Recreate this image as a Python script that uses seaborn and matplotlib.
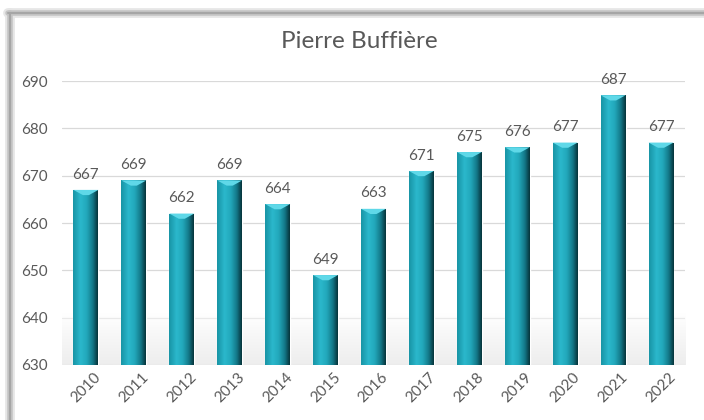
import numpy as np
import pandas as pd
import matplotlib.pyplot as plt
import seaborn as sns
from matplotlib.colors import LinearSegmentedColormap
from matplotlib.patches import Polygon
from matplotlib.lines import Line2D

# Data
years = ["2010", "2011", "2012", "2013", "2014", "2015", "2016",
         "2017", "2018", "2019", "2020", "2021", "2022"]
values = [667, 669, 662, 669, 664, 649, 663, 671, 675, 676, 677, 687, 677]
title = "Pierre Buffière"

df = pd.DataFrame({"year": years, "value": values})

sns.set_style("white")
plt.rcParams["font.family"] = ["Lato", "DejaVu Sans"]
text_col = "#595959"

fig = plt.figure(figsize=(7.04, 4.2), dpi=100)
ax = fig.add_axes([0.088, 0.131, 0.885, 0.676])

ax = sns.barplot(data=df, x="year", y="value", color="#22abbe", width=0.52,
                 ax=ax, zorder=2)
n = len(years)

# cylinder-like horizontal gradient on each bar
cmap = LinearSegmentedColormap.from_list(
    "cyl", [(0.0, "#1894a5"), (0.3, "#2bb8cc"), (0.55, "#22a8bb"),
            (0.8, "#137888"), (1.0, "#06333a")])
grad = np.linspace(0, 1, 64).reshape(1, -1)
for p in ax.patches:
    x0, w = p.get_x(), p.get_width()
    top = p.get_y() + p.get_height()
    im = ax.imshow(grad, cmap=cmap, aspect="auto", extent=[x0, x0 + w, 630, top],
                   zorder=3, interpolation="bicubic")
    im.set_clip_path(p)
    # light cap at the top of the bar
    ax.add_patch(Polygon([[x0, top], [x0 + w, top], [x0 + w * 0.62, top - 1.1],
                          [x0 + w * 0.38, top - 1.1]], closed=True,
                         facecolor="#5fd8e8", edgecolor="none", zorder=4))

# faint reflection band at the floor
shade = np.linspace(0.0, 1.0, 50).reshape(-1, 1)
ax.imshow(shade, cmap=LinearSegmentedColormap.from_list("fl", ["#ffffff", "#dcdcdc"]),
          aspect="auto", extent=[-0.5, n - 0.5, 630, 641], zorder=1, alpha=0.5)
ax.set_xlim(-0.5, n - 0.5)
ax.set_ylim(630, 690)

ax.bar_label(ax.containers[0], labels=[str(v) for v in values], padding=6,
             fontsize=11, color=text_col, zorder=5)

ax.set_yticks(range(630, 691, 10))
ax.yaxis.grid(True, color="#d9d9d9", linewidth=0.9, zorder=0)
ax.set_axisbelow(True)
for s in ax.spines.values():
    s.set_visible(False)
ax.tick_params(axis="both", length=0, colors=text_col, labelsize=11)
ax.tick_params(axis="y", pad=10)
plt.setp(ax.get_xticklabels(), rotation=45, ha="center")
ax.set_xlabel(None)
ax.set_ylabel(None)
fig.text(0.51, 0.9, title, fontsize=17.5, color=text_col, ha="center", va="center")

# outer chart frame (top and left edges) with a soft shadow
for i, (c, lw) in enumerate([("#e6e6e6", 7), ("#c4c4c4", 4), ("#a6a6a6", 1.5)]):
    fig.lines.append(Line2D([0.012, 1.0], [0.968, 0.968], transform=fig.transFigure,
                            color=c, linewidth=lw, zorder=i))
    fig.lines.append(Line2D([0.014, 0.014], [0.0, 0.968], transform=fig.transFigure,
                            color=c, linewidth=lw, zorder=i))

fig.savefig("out.png", dpi=100)
plt.close()
